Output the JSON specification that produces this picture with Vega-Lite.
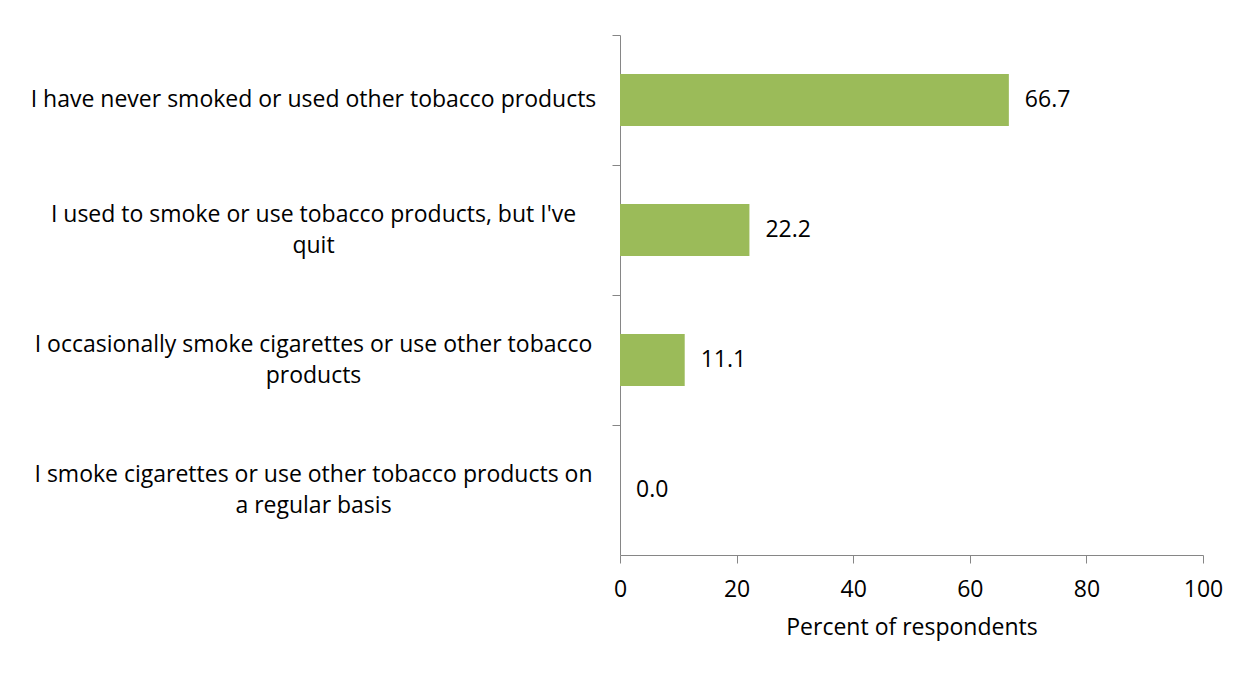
{
  "$schema": "https://vega.github.io/schema/vega-lite/v6.json",
  "width": 583,
  "height": 520,
  "autosize": {"type": "none"},
  "padding": {"left": 620, "top": 35, "right": 47, "bottom": 120},
  "background": "white",
  "config": {"view": {"stroke": null}, "font": "Open Sans"},
  "data": {"values": [
    {"category": "I have never smoked or used other tobacco products", "percent": 66.7},
    {"category": "I used to smoke or use tobacco products, but I've|quit", "percent": 22.2},
    {"category": "I occasionally smoke cigarettes or use other tobacco|products", "percent": 11.1},
    {"category": "I smoke cigarettes or use other tobacco products on|a regular basis", "percent": 0.0}
  ]},
  "encoding": {
    "y": {
      "field": "category", "type": "nominal", "sort": null,
      "scale": {"paddingInner": 0.6, "paddingOuter": 0.3},
      "axis": {
        "title": null,
        "labelExpr": "split(datum.label, '|')",
        "labelAlign": "center",
        "labelBaseline": "middle",
        "labelPadding": 299,
        "labelFontSize": 23,
        "labelColor": "#000000",
        "labelLimit": 700,
        "labelLineHeight": 31,
        "labelOffset": {"condition": {"test": "indexof(datum.value, '|') >= 0", "value": -15.5}, "value": 0},
        "domainColor": "#868686",
        "tickColor": "#868686",
        "tickSize": 8,
        "bandPosition": -0.75,
        "ticks": true
      }
    }
  },
  "layer": [
    {
      "mark": {"type": "bar", "color": "#9BBB59"},
      "encoding": {
        "x": {
          "field": "percent", "type": "quantitative",
          "scale": {"domain": [0, 100], "nice": false},
          "axis": {
            "title": "Percent of respondents",
            "titleFontSize": 23,
            "titleFontWeight": "normal",
            "titleColor": "#000000",
            "titlePadding": 15,
            "values": [0, 20, 40, 60, 80, 100],
            "labelFontSize": 23,
            "labelColor": "#000000",
            "labelPadding": 15,
            "labelFlush": false,
            "grid": false,
            "domainColor": "#868686",
            "tickColor": "#868686",
            "tickSize": 8
          }
        }
      }
    },
    {
      "mark": {"type": "text", "align": "left", "dx": 16, "fontSize": 23, "color": "#000000"},
      "encoding": {
        "x": {"field": "percent", "type": "quantitative"},
        "text": {"field": "percent", "type": "quantitative", "format": ".1f"}
      }
    }
  ]
}
